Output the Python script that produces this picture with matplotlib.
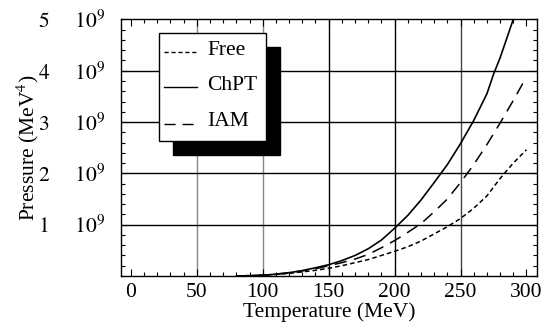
import numpy as np
import matplotlib
matplotlib.use('Agg')
import matplotlib.pyplot as plt
from matplotlib.patches import Rectangle
from matplotlib.lines import Line2D
from matplotlib.ticker import MultipleLocator, FixedLocator

plt.rcParams['font.family'] = ['Liberation Serif', 'DejaVu Serif']
plt.rcParams['mathtext.fontset'] = 'stix'
plt.rcParams['font.size'] = 15.5

# data (T in MeV, P in units of 1e9 MeV^4)
T_chpt = [80, 90, 100, 110, 120, 130, 140, 150, 160, 170, 180, 190, 200,
          210, 220, 230, 240, 250, 260, 270, 275, 280, 290]
P_chpt = [0.0, 0.005, 0.015, 0.035, 0.065, 0.105, 0.16, 0.22, 0.30, 0.40, 0.53, 0.70, 0.93,
          1.18, 1.48, 1.82, 2.17, 2.58, 3.03, 3.55, 3.93, 4.25, 5.0]

T_iam = [80, 100, 120, 140, 150, 160, 170, 180, 190, 200, 210, 220, 230,
         240, 250, 260, 270, 280, 290, 300]
P_iam = [0.0, 0.015, 0.06, 0.14, 0.20, 0.26, 0.33, 0.42, 0.55, 0.69, 0.85, 1.02, 1.25,
         1.50, 1.82, 2.17, 2.56, 2.98, 3.42, 3.88]

T_free = [80, 100, 120, 140, 150, 160, 170, 180, 190, 200, 210, 220, 230,
          240, 250, 260, 270, 280, 290, 300]
P_free = [0.0, 0.015, 0.05, 0.11, 0.15, 0.20, 0.26, 0.32, 0.40, 0.48, 0.57, 0.68, 0.82,
          0.96, 1.12, 1.32, 1.56, 1.90, 2.20, 2.46]

x_ticks = [0, 50, 100, 150, 200, 250, 300]
y_ticks = [1, 2, 3, 4, 5]
y_labels = [r'$%d\quad\ \ 10^{9}$' % v for v in y_ticks]
grid_x = [50, 100, 150, 200, 250]
grid_x_col = ['#888888', '#888888', 'black', 'black', '#444444']
grid_y = [1, 2, 3, 4]

fig = plt.figure(figsize=(5.57, 3.26), dpi=100)
ax = fig.add_axes([0.2172, 0.1534, 0.7469, 0.7871])

for gx, c in zip(grid_x, grid_x_col):
    ax.axvline(gx, color=c, lw=1.0, zorder=1)
for gy in grid_y:
    ax.axhline(gy, color='black', lw=1.0, zorder=1)

ax.plot(T_free, P_free, color='black', lw=1.1, dashes=(3, 2), zorder=3)
ax.plot(T_chpt, P_chpt, color='black', lw=1.2, zorder=3)
ax.plot(T_iam, P_iam, color='black', lw=1.1, dashes=(8, 5), zorder=3)

ax.set_xlim(-7.5, 308)
ax.set_ylim(0, 5)
ax.xaxis.set_major_locator(FixedLocator(x_ticks))
ax.xaxis.set_minor_locator(MultipleLocator(10))
ax.yaxis.set_major_locator(FixedLocator(y_ticks))
ax.yaxis.set_minor_locator(MultipleLocator(0.2))
ax.set_yticklabels(y_labels)
ax.tick_params(which='both', direction='in', top=True, right=True, width=0.8)
ax.tick_params(which='major', length=5)
ax.tick_params(which='minor', length=3)
ax.tick_params(axis='y', pad=11)
ax.tick_params(axis='x', pad=5)
for s in ax.spines.values():
    s.set_linewidth(1.0)

ax.set_xlabel('Temperature (MeV)', labelpad=0)
ax.set_ylabel('Pressure (MeV$^4$)', labelpad=-2)

# legend box with a solid black shadow
ax.add_patch(Rectangle((0.1250, 0.4725), 0.2572, 0.4209, transform=ax.transAxes,
                       facecolor='black', edgecolor='black', zorder=5))
ax.add_patch(Rectangle((0.0913, 0.5265), 0.2572, 0.4209, transform=ax.transAxes,
                       facecolor='white', edgecolor='black', lw=1.0, zorder=6))
entries = [('Free', (3, 2), 0.873, 0.861),
           ('ChPT', None, 0.737, 0.725),
           ('IAM', (8, 5), 0.592, 0.585)]
for name, d, ly, ty in entries:
    ln = Line2D([0.1034, 0.1827], [ly, ly], transform=ax.transAxes, color='black',
                lw=1.0, zorder=7)
    if d is not None:
        ln.set_dashes(d)
    ax.add_line(ln)
    ax.text(0.2067, ty, name, transform=ax.transAxes, va='baseline', ha='left',
            fontsize=15.5, zorder=7)

fig.savefig('out.png', dpi=100)
